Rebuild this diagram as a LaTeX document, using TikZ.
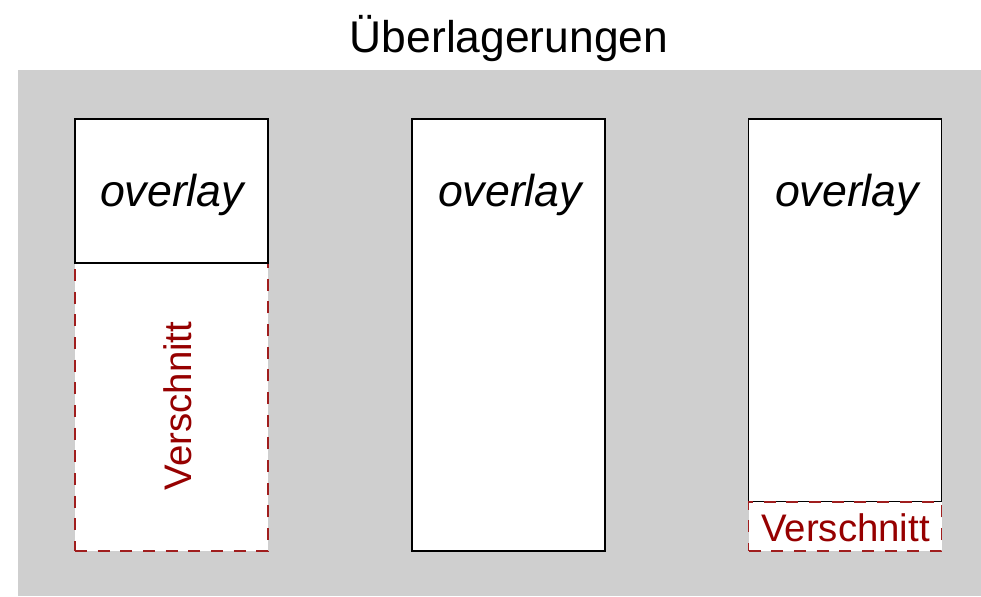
\documentclass[tikz,border=0pt]{standalone}
\usepackage{fontspec}
\setmainfont{Liberation Sans}
\definecolor{bgray}{RGB}{207,207,207}
\definecolor{cutline}{RGB}{160,30,30}
\definecolor{cuttext}{RGB}{150,0,0}
\tikzset{
  panel/.style={draw=black, fill=white, line width=1.1pt, inner sep=0pt, minimum width=144.75pt},
  cutbox/.style={draw=cutline, fill=white, line width=1.1pt, dash pattern=on 9pt off 8pt, inner sep=0pt, minimum width=144.75pt},
  ovl/.style={font=\fontsize{33.5}{40}\selectfont\itshape, inner sep=0pt},
  cut/.style={font=\fontsize{28.8}{34}\selectfont, text=cuttext, inner sep=0pt},
  ttl/.style={font=\fontsize{33.3}{40}\selectfont, inner sep=0pt, anchor=base}
}
\begin{document}
\begin{tikzpicture}[x=0.75pt,y=-0.75pt]
\useasboundingbox (0,0) rectangle (981,596);
\fill[white] (0,0) rectangle (981,596);
\node[ttl] (title) at (509,52) {Überlagerungen};
\node[fill=bgray, inner sep=0pt, minimum width=722.25pt, minimum height=394.5pt] (bg) at (499.5,333) {};
% left column
\node[cutbox, minimum height=216pt] (c1) at (171.5,407) {};
\node[panel, minimum height=108pt] (p1) at (171.5,191) {};
\node[ovl] (o1) at (172,195) {overlay};
\node[cut, rotate=90] (v1) at (178,406) {Verschnitt};
% middle column
\node[panel, minimum height=324pt] (p2) at (508.5,335) {};
\node[ovl] (o2) at (510,195) {overlay};
% right column
\node[panel, minimum height=287.25pt] (p3) at (845,310.5) {};
\node[cutbox, minimum height=36.75pt] (c3) at (845,526.5) {};
\node[ovl] (o3) at (847,195) {overlay};
\node[cut] (v3) at (845.5,528) {Verschnitt};
\end{tikzpicture}
\end{document}
